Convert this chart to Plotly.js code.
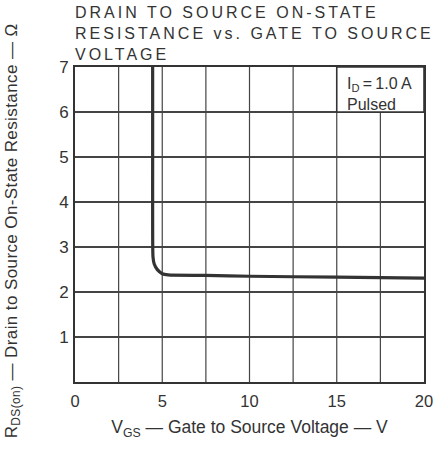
<!DOCTYPE html>
<html>
<head>
<meta charset="utf-8">
<script src="https://cdn.plot.ly/plotly-3.0.1.min.js"></script>
<style>
html,body{margin:0;padding:0;background:#fff;}
#chart{width:445px;height:452px;}
.annotation[data-index="0"] text{letter-spacing:3px;}
.annotation[data-index="1"] text{letter-spacing:0.4px;}
</style>
</head>
<body>
<div id="chart"></div>
<script>
// Data
const vgs = [4.45, 4.45, 4.45, 4.47, 4.535, 4.72, 5.0, 5.33, 7.5, 10, 15, 20];
const rds = [7.0, 5.0, 3.5, 2.78, 2.627, 2.497, 2.407, 2.38, 2.37, 2.35, 2.33, 2.31];
const xTicks = [0, 5, 10, 15, 20];
const yTicks = [1, 2, 3, 4, 5, 6, 7];
const xGrid = [2.5, 5, 7.5, 10, 12.5, 15, 17.5];

const ink = '#333333';
const fontFam = '"Liberation Sans", Arial, Helvetica, sans-serif';

const trace = {
  x: vgs, y: rds, mode: 'lines', type: 'scatter',
  line: {color: ink, width: 3.2, shape: 'spline', smoothing: 0.6},
  hoverinfo: 'skip', showlegend: false
};

const layout = {
  width: 445, height: 452,
  margin: {l: 75, r: 21, t: 67, b: 70},
  paper_bgcolor: '#ffffff', plot_bgcolor: '#ffffff',
  font: {family: fontFam, color: ink},
  xaxis: {
    range: [0, 20], tickvals: xTicks, ticktext: xTicks.map(String),
    showgrid: false, zeroline: false, ticks: '', ticklen: 0,
    showline: true, mirror: true, linecolor: ink, linewidth: 2,
    tickfont: {size: 16.5, color: ink}, ticklabelstandoff: 3,
    title: {text: 'V<sub>GS</sub> \u2014 Gate to Source Voltage \u2014 V', font: {size: 17.5, color: ink}, standoff: 12}
  },
  yaxis: {
    range: [0, 7], tickvals: yTicks, ticktext: yTicks.map(String),
    showgrid: true, gridcolor: '#444444', gridwidth: 1.2, zeroline: false, ticks: '', ticklen: 0,
    showline: true, mirror: true, linecolor: ink, linewidth: 2,
    tickfont: {size: 17, color: ink}, ticklabelstandoff: 1
  },
  shapes: xGrid.map(v => ({
    type: 'line', xref: 'x', yref: 'paper', x0: v, x1: v, y0: 0, y1: 1,
    line: {color: '#444444', width: 1.2}, layer: 'below'
  })).concat([{
    type: 'rect', xref: 'x', yref: 'y', x0: 15, x1: 20, y0: 6, y1: 7,
    fillcolor: '#ffffff', line: {color: ink, width: 1.6}, layer: 'above'
  }]),
  annotations: [
    {
      text: 'DRAIN TO SOURCE ON-STATE<br>RESISTANCE vs. GATE TO SOURCE<br>VOLTAGE',
      xref: 'paper', yref: 'paper', x: 0, y: 1, xshift: -2, yshift: 65,
      xanchor: 'left', yanchor: 'top', align: 'left', showarrow: false,
      font: {size: 16, color: ink, family: fontFam}
    },
    {
      text: 'R<sub>DS(on)</sub> \u2014 Drain to Source On-State Resistance \u2014 \u03A9',
      xref: 'paper', yref: 'paper', x: 0, y: 0.5, xshift: -63, yshift: -7,
      xanchor: 'center', yanchor: 'middle', textangle: -90, showarrow: false,
      font: {size: 17, color: ink, family: fontFam}
    },
    {
      text: 'I<sub>D</sub>\u2009=\u20091.0 A<br>Pulsed',
      xref: 'x', yref: 'y', x: 15.45, y: 6.87,
      xanchor: 'left', yanchor: 'top', align: 'left', showarrow: false,
      font: {size: 16, color: ink, family: fontFam}
    }
  ]
};

Plotly.newPlot('chart', [trace], layout, {displayModeBar: false, staticPlot: true});
</script>
</body>
</html>
